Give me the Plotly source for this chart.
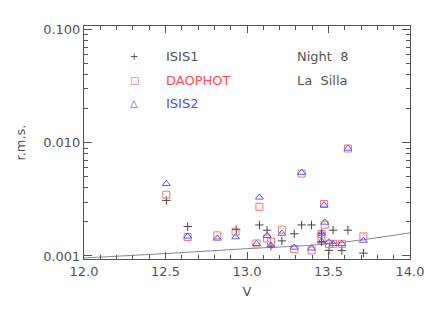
import plotly.graph_objects as go
import numpy as np

# ISIS1 (+)
v_isis1 = [12.505, 12.636, 12.934, 13.076, 13.123, 13.147, 13.214, 13.290, 13.335, 13.396,
           13.457, 13.457, 13.528, 13.503, 13.582, 13.619, 13.714]
rms_isis1 = [0.00310, 0.00182, 0.00171, 0.00188, 0.00169, 0.00122, 0.00136, 0.00157, 0.00188, 0.00188,
             0.00159, 0.00134, 0.00169, 0.00112, 0.00112, 0.00169, 0.00106]

# DAOPHOT (squares)
v_dao = [12.505, 12.636, 12.818, 12.930, 13.058, 13.076, 13.123, 13.147, 13.214, 13.290, 13.335,
         13.396, 13.457, 13.457, 13.473, 13.477, 13.503, 13.528, 13.582, 13.619, 13.714]
rms_dao = [0.00348, 0.00147, 0.00152, 0.00164, 0.00129, 0.00272, 0.00143, 0.00134, 0.00171, 0.00115, 0.00535,
           0.00112, 0.00157, 0.00141, 0.00288, 0.00189, 0.00127, 0.00128, 0.00128, 0.00891, 0.00149]

# ISIS2 (triangles)
v_isis2 = v_dao
rms_isis2 = [0.00434, 0.00149, 0.00143, 0.00147, 0.00128, 0.00330, 0.00151, 0.00124, 0.00158, 0.00119, 0.00546,
             0.00117, 0.00159, 0.00135, 0.00281, 0.00198, 0.00133, 0.00128, 0.00128, 0.00893, 0.00137]

# noise-limit curve
v_curve = [12.0, 12.5, 13.0, 13.5, 14.0]
rms_curve = [0.00096, 0.00105, 0.00116, 0.00128, 0.00160]

x_ticks = [12.0, 12.5, 13.0, 13.5, 14.0]
x_ticklabels = ["12.0", "12.5", "13.0", "13.5", "14.0"]
y_ticks = [0.001, 0.01, 0.1]
y_ticklabels = ["0.001", "0.010", "0.100"]

GREY = "#555555"
RED = "#ff4d4d"
BLUE = "#4d4dff"
FONT = "DejaVu Sans"

fig = go.Figure()
fig.add_trace(go.Scatter(x=v_curve, y=rms_curve, mode="lines",
                         line=dict(color="#888888", width=1), line_shape="spline",
                         showlegend=False, hoverinfo="skip"))
fig.add_trace(go.Scatter(x=v_isis1, y=rms_isis1, mode="markers", name="ISIS1",
                         marker=dict(symbol="cross-thin", size=6, line=dict(color="#444444", width=1))))
fig.add_trace(go.Scatter(x=v_dao, y=rms_dao, mode="markers", name="DAOPHOT",
                         marker=dict(symbol="square-open", size=7, color="#ff7070", line=dict(width=1))))
fig.add_trace(go.Scatter(x=v_isis2, y=rms_isis2, mode="markers", name="ISIS2",
                         marker=dict(symbol="triangle-up-open", size=7, color="#5a5aff", line=dict(width=1))))

axis_common = dict(showgrid=False, zeroline=False, mirror="allticks", showline=True,
                   linecolor="#555555", linewidth=1, ticks="inside", tickcolor="#555555",
                   tickfont=dict(family=FONT, size=13, color=GREY))

fig.update_xaxes(range=[12.0, 14.0], tickvals=x_ticks, ticktext=x_ticklabels, ticklen=7,
                 minor=dict(ticks="inside", dtick=0.1, ticklen=4, tickcolor="#555555"),
                 title=dict(text="V", font=dict(family=FONT, size=13, color=GREY), standoff=9),
                 **axis_common)
fig.update_yaxes(type="log", range=[np.log10(0.00094), np.log10(0.108)],
                 tickvals=y_ticks, ticktext=y_ticklabels, ticklen=8,
                 minor=dict(ticks="inside", dtick="D1", ticklen=4, tickcolor="#555555"),
                 title=dict(text="r.m.s.", font=dict(family=FONT, size=13, color=GREY), standoff=14),
                 **axis_common)

# page offset of 8px (body margin)
OX, OY = 8, 8
L, R, T, B = 82, 411, 26.3, 259.3
W, H = 436 - OX, 312 - OY

ann = []
def px2paper(px, py):
    return (px - L) / (R - L), (B - py) / (B - T)

def add_text(px, py, text, color, size=13, family=FONT):
    x, y = px2paper(px, py)
    ann.append(dict(x=x, y=y, xref="paper", yref="paper", text=text, showarrow=False,
                    xanchor="left", yanchor="middle", font=dict(family=family, size=size, color=color)))

for (sym, col, lab, py) in [("+", GREY, "ISIS1", 57), ("□", RED, "DAOPHOT", 81), ("△", BLUE, "ISIS2", 104)]:
    add_text(126, py, sym, col, size=10)
    add_text(163, py, lab, col)
add_text(295, 57, "Night  8", GREY)
add_text(295, 81, "La  Silla", GREY)

fig.update_layout(width=W, height=H,
                  margin=dict(l=L - OX, r=436 - R, t=T - OY, b=312 - B),
                  plot_bgcolor="white", paper_bgcolor="white", showlegend=False,
                  annotations=ann)
fig.write_html("out.html")
